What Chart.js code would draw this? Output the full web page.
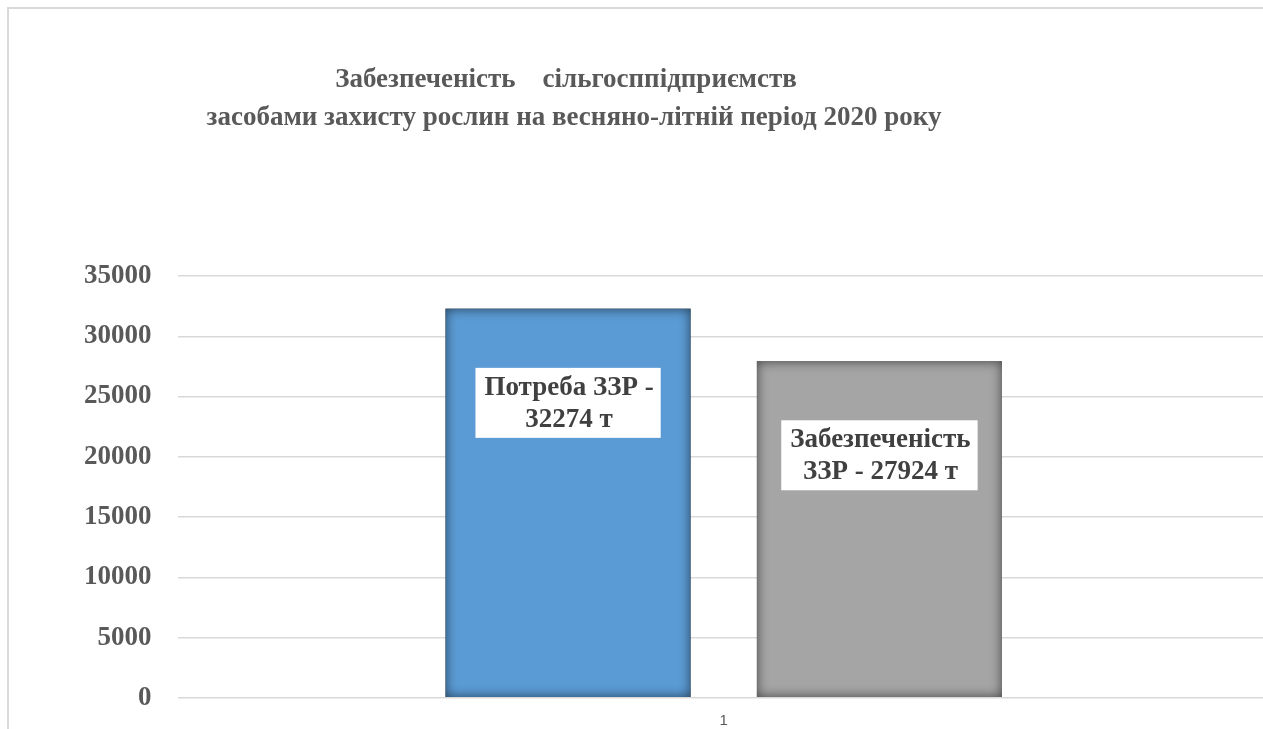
<!DOCTYPE html>
<html lang="uk">
<head>
    <meta charset="UTF-8">
    <title>Забезпеченість ЗЗР</title>
    <script src="https://cdn.jsdelivr.net/npm/chart.js@4.4.1/dist/chart.umd.min.js"></script>
    <style>
        body {
            margin: 0;
            overflow: hidden;
            background: #ffffff;
        }
    </style>
</head>
<body>
    <canvas id="grafica" width="1280" height="740"></canvas>

    <script>
        // дані
        const categories = ["1"];
        const seriesNames = ["Потреба ЗЗР", "Забезпеченість ЗЗР"];
        const needValues = [32274];
        const supplyValues = [27924];
        const barLabels = [
            ["Потреба ЗЗР -", "32274 т"],
            ["Забезпеченість", "ЗЗР - 27924 т"]
        ];
        const yTickValues = [0, 5000, 10000, 15000, 20000, 25000, 30000, 35000];
        const titleLines = [
            "Забезпеченість    сільгосппідприємств",
            "засобами захисту рослин на весняно-літній період 2020 року"
        ];

        const serif = "'Liberation Serif', 'Times New Roman', serif";
        const textGray = "#595959";

        // рамка навколо діаграми
        const ramka = {
            id: "ramka",
            beforeDraw(chart) {
                const ctx = chart.ctx;
                ctx.save();
                ctx.strokeStyle = "#d9d9d9";
                ctx.lineWidth = 2;
                ctx.strokeRect(8, 8, chart.width + 100, chart.height + 100);
                ctx.restore();
            }
        };

        // заголовок
        const zagolovok = {
            id: "zagolovok",
            afterDraw(chart) {
                const ctx = chart.ctx;
                ctx.save();
                ctx.fillStyle = textGray;
                ctx.font = "bold 27px " + serif;
                ctx.textAlign = "center";
                ctx.textBaseline = "middle";
                ctx.fillText(titleLines[0], 566, 80);
                ctx.fillText(titleLines[1], 574, 118);
                ctx.restore();
            }
        };

        // тінь всередині стовпців + підписи
        const stovpci = {
            id: "stovpci",
            afterDatasetsDraw(chart) {
                const ctx = chart.ctx;
                chart.data.datasets.forEach((ds, i) => {
                    chart.getDatasetMeta(i).data.forEach((bar, j) => {
                        const p = bar.getProps(["x", "y", "base", "width"], true);
                        const left = p.x - p.width / 2;
                        const h = p.base - p.y;

                        ctx.save();
                        ctx.beginPath();
                        ctx.rect(left, p.y, p.width, h);
                        ctx.clip();
                        ctx.shadowColor = "rgba(0,0,0,0.6)";
                        ctx.shadowBlur = 12;
                        ctx.lineWidth = 20;
                        ctx.strokeStyle = "#000";
                        ctx.strokeRect(left - 10, p.y - 10, p.width + 20, h + 20);
                        ctx.restore();

                        const lines = barLabels[i];
                        ctx.save();
                        ctx.font = "bold 27px " + serif;
                        const w = Math.max(...lines.map(t => ctx.measureText(t).width)) + 16;
                        const lh = 32;
                        const bh = lh * lines.length + 6;
                        const cy = p.y + 94;
                        ctx.fillStyle = "#ffffff";
                        ctx.fillRect(p.x - w / 2, cy - bh / 2, w, bh);
                        ctx.fillStyle = "#404040";
                        ctx.textAlign = "center";
                        ctx.textBaseline = "middle";
                        lines.forEach((t, k) => {
                            ctx.fillText(t, p.x + 1, cy - lh / 2 + k * lh + 1);
                        });
                        ctx.restore();
                    });
                });
            }
        };

        new Chart(document.getElementById("grafica"), {
            type: "bar",
            data: {
                labels: categories,
                datasets: [
                    {
                        label: seriesNames[0],
                        data: needValues,
                        backgroundColor: "#5b9bd5"
                    },
                    {
                        label: seriesNames[1],
                        data: supplyValues,
                        backgroundColor: "#a5a5a5"
                    }
                ]
            },
            options: {
                responsive: false,
                animation: false,
                devicePixelRatio: 1,
                categoryPercentage: 0.57,
                barPercentage: 0.787,
                layout: {
                    padding: { top: 276, left: 58, right: 10, bottom: 0 }
                },
                plugins: {
                    legend: { display: false },
                    tooltip: { enabled: false },
                    title: { display: false }
                },
                scales: {
                    x: {
                        grid: { display: false },
                        border: { display: false },
                        ticks: {
                            color: textGray,
                            font: { family: "'Liberation Sans', Arial, sans-serif", size: 15 },
                            padding: 6
                        }
                    },
                    y: {
                        min: yTickValues[0],
                        max: yTickValues[yTickValues.length - 1],
                        afterBuildTicks(axis) {
                            axis.ticks = yTickValues.map(v => ({ value: v }));
                        },
                        grid: { color: "#d9d9d9", lineWidth: 1.5, drawTicks: false },
                        border: { display: false },
                        ticks: {
                            color: textGray,
                            font: { family: serif, size: 27, weight: "bold" },
                            padding: 26,
                            callback: v => String(v)
                        }
                    }
                }
            },
            plugins: [ramka, zagolovok, stovpci]
        });
    </script>
</body>
</html>
